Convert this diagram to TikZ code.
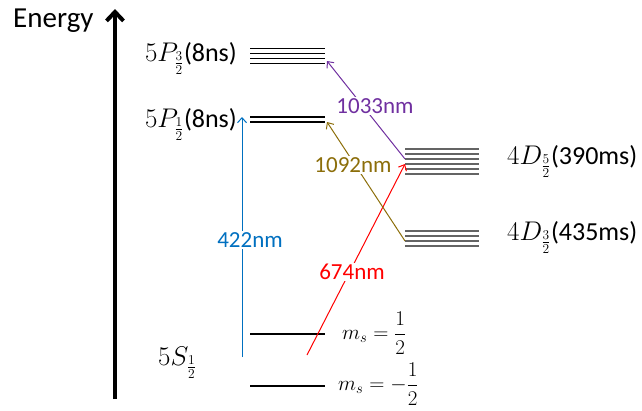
\documentclass[tikz,border=0pt]{standalone}
\usepackage{fix-cm}
\usepackage{fontspec}
\setmainfont{Carlito}
\usetikzlibrary{arrows.meta}
\definecolor{cblue}{RGB}{0,112,192}
\definecolor{cgold}{RGB}{140,110,10}
\definecolor{cpurple}{RGB}{112,48,160}
\definecolor{dgray}{RGB}{100,100,100}
\newcommand{\statemath}[1]{{\fontsize{27}{31}\selectfont$#1$}}
\begin{document}
\begin{tikzpicture}[x=1pt,y=-1pt,
  lvl/.style={line width=1.3pt, black},
  dlvl/.style={line width=1.8pt, dgray},
  trans/.style={line width=1pt, -{Straight Barb[length=5pt,width=9pt]}},
  wl/.style={fill=white, inner sep=1.5pt, font=\fontsize{23}{27}\selectfont},
  lab/.style={font=\fontsize{26}{30}\selectfont, inner sep=0pt},
  mslab/.style={font=\fontsize{21}{25}\selectfont, inner sep=0pt}]
\useasboundingbox (0,0) rectangle (642,410);
% energy axis
\coordinate (ebot) at (115,399);
\coordinate (etop) at (115,9);
\draw[line width=4pt, -{Straight Barb[length=9pt,width=17pt]}] (ebot) -- (etop);
\node[anchor=base west, inner sep=0pt, font=\fontsize{29}{33}\selectfont] (energy) at (13,27) {Energy};
% levels
\foreach \y in {48.5,53.5,58.5,63.5} \draw[lvl] (250,\y) -- (325,\y);
\foreach \y in {117,122} \draw[lvl] (250,\y) -- (325,\y);
\foreach \y in {149,154,159,164,169,174} \draw[dlvl] (405,\y) -- (479,\y);
\foreach \y in {231,236,241,246} \draw[dlvl] (405,\y) -- (479,\y);
\draw[lvl, line width=1.1pt] (250,334) -- (325,334);
\draw[lvl, line width=1.1pt] (250,386) -- (325,386);
% level labels
\node[lab, anchor=base east] (p32) at (237,61) {\statemath{5P_{\frac{3}{2}}}(8ns)};
\node[lab, anchor=base east] (p12) at (237,127) {\statemath{5P_{\frac{1}{2}}}(8ns)};
\node[lab, anchor=base west] (d52) at (507,164) {\statemath{4D_{\frac{5}{2}}}(390ms)};
\node[lab, anchor=base west] (d32) at (507,240) {\statemath{4D_{\frac{3}{2}}}(435ms)};
\node[lab, anchor=base west] (s12) at (158,365) {\statemath{5S_{\frac{1}{2}}}};
\node[mslab, anchor=west] (msp) at (342,333) {$\displaystyle m_s=\frac{1}{2}$};
\node[mslab, anchor=west] (msm) at (338,384) {$\displaystyle m_s=-\frac{1}{2}$};
% transition end points
\coordinate (bluefrom) at (242,357);
\coordinate (blueto) at (242,117);
\coordinate (redfrom) at (307,355);
\coordinate (redto) at (405,164);
\coordinate (goldfrom) at (405,241);
\coordinate (goldto) at (327,122);
\coordinate (purpfrom) at (405,159);
\coordinate (purpto) at (327,61);
\draw[trans, cblue] (bluefrom) -- (blueto);
\draw[trans, red] (redfrom) -- (redto);
\draw[trans, cgold] (goldfrom) -- (goldto);
\draw[trans, cpurple] (purpfrom) -- (purpto);
% wavelength labels
\node[wl, text=cblue] (l422) at (250,240) {422nm};
\node[wl, text=red] (l674) at (352,272) {674nm};
\node[wl, text=cgold] (l1092) at (353,165) {1092nm};
\node[wl, text=cpurple] (l1033) at (375,106) {1033nm};
\end{tikzpicture}
\end{document}
